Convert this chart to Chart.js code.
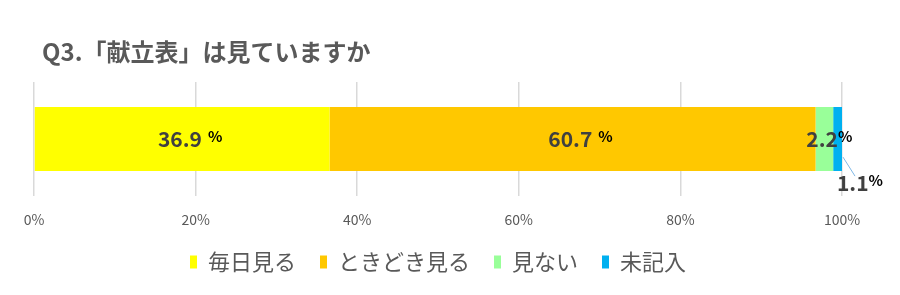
<!DOCTYPE html>
<html>
<head>
<meta charset="utf-8">
<script src="https://cdn.jsdelivr.net/npm/chart.js@4"></script>
<style>
  html, body { margin: 0; padding: 0; background: #fff; }
  #wrap { width: 900px; height: 295px; }
</style>
</head>
<body>
<div id="wrap"><canvas id="chart"></canvas></div>
<script>
const titleText = 'Q3.「献立表」は見ていますか';
const categories = ['Q3'];
const seriesNames = ['毎日見る', 'ときどき見る', '見ない', '未記入'];
const seriesValues = [36.9, 60.7, 2.2, 1.1];
const seriesColors = ['#ffff00', '#ffc800', '#99ff99', '#00b0f0'];
const tickValues = [0, 20, 40, 60, 80, 100];

const FONT = '"Noto Sans CJK JP", "Noto Sans", sans-serif';

// 100% stacked: each share of the total
const total = seriesValues.reduce((a, b) => a + b, 0);

const datasets = seriesNames.map((name, i) => ({
    label: name,
    data: [seriesValues[i] / total * 100],
    backgroundColor: seriesColors[i],
    borderWidth: 0,
    barPercentage: 0.56,
    categoryPercentage: 1,
}));

const labelPlugin = {
    id: 'labels',
    afterDatasetsDraw(chart) {
        const ctx = chart.ctx;
        ctx.save();
        chart.data.datasets.forEach((ds, i) => {
            const el = chart.getDatasetMeta(i).data[0];
            const num = seriesValues[i].toFixed(1);
            let cx = (el.x + el.base) / 2 + (i < 2 ? 8 : 5);
            let cy = el.y;
            if (i === 3) {
                // leader line to label under the bar
                ctx.strokeStyle = '#7fb8e6';
                ctx.lineWidth = 1;
                ctx.beginPath();
                ctx.moveTo(el.x + 1, el.y + 18);
                ctx.lineTo(el.x + 13, el.y + 37);
                ctx.stroke();
                cx = el.x + 18;
                cy = el.y + 44;
            }
            ctx.font = 'bold 21px ' + FONT;
            const w1 = ctx.measureText(num).width;
            ctx.font = 'bold 15px ' + FONT;
            const w2 = ctx.measureText('%').width;
            const gap = i < 2 ? 6 : 0;
            const x0 = cx - (w1 + gap + w2) / 2;
            ctx.textBaseline = 'middle';
            ctx.textAlign = 'left';
            ctx.font = 'bold 21px ' + FONT;
            ctx.fillStyle = '#404040';
            ctx.fillText(num, x0, cy);
            ctx.font = 'bold 15px ' + FONT;
            ctx.fillStyle = '#000';
            ctx.fillText('%', x0 + w1 + gap, cy - 3);
        });
        // title
        ctx.font = 'bold 24px ' + FONT;
        ctx.fillStyle = '#595959';
        ctx.textBaseline = 'middle';
        ctx.textAlign = 'left';
        ctx.fillText(titleText, 42, 52);
        ctx.restore();
    }
};

new Chart(document.getElementById('chart'), {
    type: 'bar',
    data: { labels: categories, datasets },
    plugins: [labelPlugin],
    options: {
        indexAxis: 'y',
        responsive: true,
        maintainAspectRatio: false,
        animation: false,
        layout: { padding: { left: 34, right: 58, top: 82, bottom: 12 } },
        scales: {
            x: {
                stacked: true,
                min: 0,
                max: 100,
                afterBuildTicks(axis) {
                    axis.ticks = tickValues.map(v => ({ value: v }));
                },
                afterFit(axis) {
                    axis.height -= 16;
                },
                grid: { color: '#d9d9d9', lineWidth: 1.5, drawTicks: false },
                border: { display: false },
                ticks: {
                    padding: 15,
                    color: '#595959',
                    font: { family: FONT, size: 14 },
                    callback: v => v + '%',
                },
            },
            y: {
                stacked: true,
                display: false,
            },
        },
        plugins: {
            legend: {
                position: 'bottom',
                labels: {
                    boxWidth: 7,
                    boxHeight: 13,
                    padding: 24,
                    color: '#595959',
                    font: { family: FONT, size: 22 },
                },
            },
            tooltip: { enabled: false },
        },
    },
});
</script>
</body>
</html>
